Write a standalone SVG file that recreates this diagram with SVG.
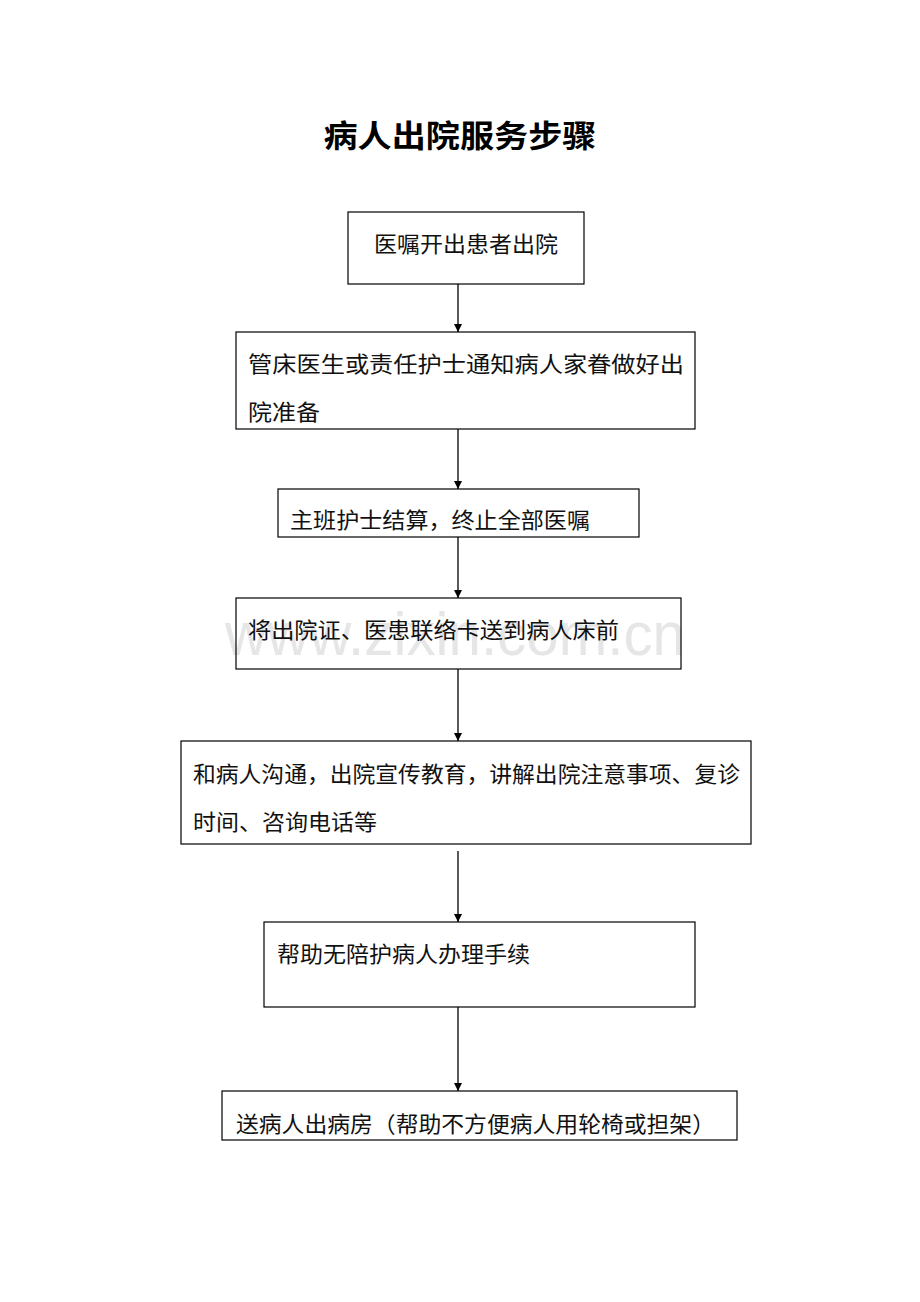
<svg xmlns="http://www.w3.org/2000/svg" width="920" height="1302" viewBox="0 0 920 1302">
<style>
.box{fill:none;stroke:#000;stroke-width:1.2}
.t{font-family:"Noto Sans CJK SC","Noto Sans",sans-serif;font-size:22px;fill:#111}
.title{font-family:"Noto Sans CJK SC","Noto Sans",sans-serif;font-size:31px;font-weight:bold;fill:#000}
.c{stroke:#000;stroke-width:1.3;fill:none}
.wm{font-family:"Liberation Sans",Arial,sans-serif;font-size:62px;fill:#e6e6e6}
</style>
<defs>
<marker id="ah" viewBox="0 0 10 10" refX="10" refY="5" markerWidth="8" markerHeight="8" markerUnits="userSpaceOnUse" orient="auto">
<path d="M0,0 L10,5 L0,10 z" fill="#000"/>
</marker>
</defs>
<rect width="920" height="1302" fill="#fff"/>
<text class="wm" x="455" y="655" text-anchor="middle" textLength="460" lengthAdjust="spacingAndGlyphs">www.zixin.com.cn</text>
<text class="title" x="460" y="147" text-anchor="middle" textLength="273" lengthAdjust="spacingAndGlyphs">病人出院服务步骤</text>
<g id="connectors">
<line class="c" x1="458" y1="284" x2="458" y2="332" marker-end="url(#ah)"/>
<line class="c" x1="458" y1="429" x2="458" y2="489" marker-end="url(#ah)"/>
<line class="c" x1="458" y1="537" x2="458" y2="598" marker-end="url(#ah)"/>
<line class="c" x1="458" y1="669" x2="458" y2="741" marker-end="url(#ah)"/>
<line class="c" x1="458" y1="851" x2="458" y2="922" marker-end="url(#ah)"/>
<line class="c" x1="458" y1="1007" x2="458" y2="1091" marker-end="url(#ah)"/>
</g>
<g id="n1">
<rect class="box" x="348" y="212" width="236" height="72"/>
<text class="t" x="374" y="252" textLength="184" lengthAdjust="spacingAndGlyphs">医嘱开出患者出院</text>
</g>
<g id="n2">
<rect class="box" x="236" y="332" width="459" height="97"/>
<text class="t" x="248" y="372" textLength="436" lengthAdjust="spacingAndGlyphs">管床医生或责任护士通知病人家眷做好出</text>
<text class="t" x="248" y="420" textLength="72" lengthAdjust="spacingAndGlyphs">院准备</text>
</g>
<g id="n3">
<rect class="box" x="278" y="489" width="361" height="48"/>
<text class="t" x="290" y="528" textLength="300" lengthAdjust="spacingAndGlyphs">主班护士结算，终止全部医嘱</text>
</g>
<g id="n4">
<rect class="box" x="236" y="598" width="445" height="71"/>
<text class="t" x="248" y="638" textLength="371" lengthAdjust="spacingAndGlyphs">将出院证、医患联络卡送到病人床前</text>
</g>
<g id="n5">
<rect class="box" x="181" y="741" width="570" height="103"/>
<text class="t" x="193" y="782" textLength="547" lengthAdjust="spacingAndGlyphs">和病人沟通，出院宣传教育，讲解出院注意事项、复诊</text>
<text class="t" x="193" y="830" textLength="184" lengthAdjust="spacingAndGlyphs">时间、咨询电话等</text>
</g>
<g id="n6">
<rect class="box" x="264" y="922" width="431" height="85"/>
<text class="t" x="277" y="962" textLength="253" lengthAdjust="spacingAndGlyphs">帮助无陪护病人办理手续</text>
</g>
<g id="n7">
<rect class="box" x="222" y="1091" width="515" height="49"/>
<text class="t" x="236" y="1132" textLength="479" lengthAdjust="spacingAndGlyphs">送病人出病房（帮助不方便病人用轮椅或担架）</text>
</g>
</svg>
